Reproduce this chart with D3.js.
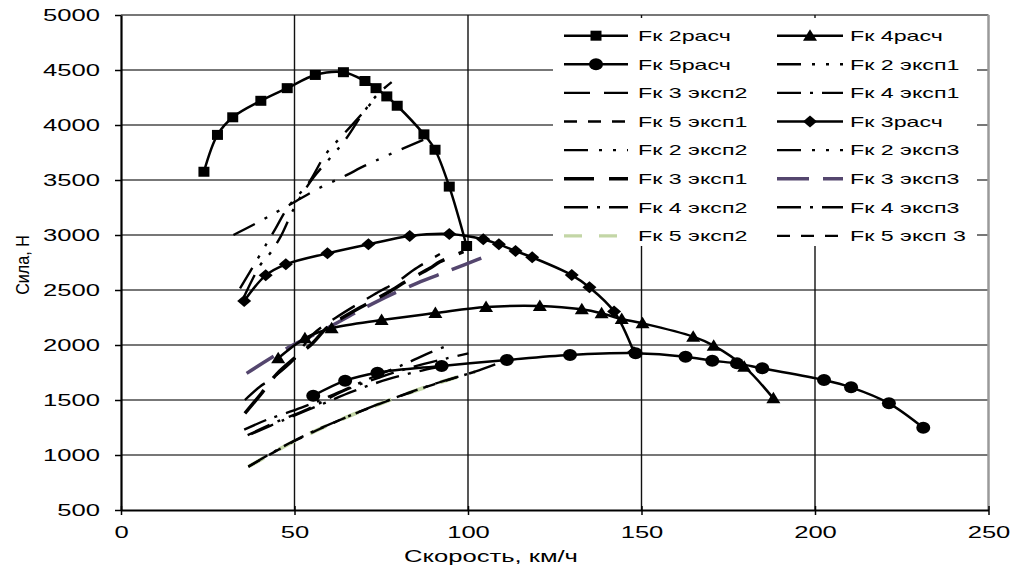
<!DOCTYPE html>
<html><head><meta charset="utf-8">
<script src="https://cdn.jsdelivr.net/npm/d3@7/dist/d3.min.js"></script>
<style>html,body{margin:0;padding:0;background:#fff;}svg{display:block;}</style>
</head><body><svg id="c" width="1011" height="573"></svg>
<script>
// ---- data: [speed km/h, force N] ----
const fk2calc = [[23.9,3575],[27.8,3910],[32.2,4070],[40.3,4220],[47.9,4335],[56,4455],[64.1,4480],[70.3,4400],[73.5,4335],[76.6,4260],[79.6,4175],[87.3,3915],[90.5,3775],[94.6,3440],[99.6,2900]];
const fk4calc = [[45.3,1879],[53,2061],[60.7,2152],[75.1,2227],[90.6,2290],[105.2,2345],[120.7,2355],[132.8,2324],[138.5,2288],[144.3,2236],[150.3,2197],[164.9,2076],[170.8,1994],[179.6,1803],[188,1515]];
const fk5calc = [[55.4,1539],[64.6,1676],[73.9,1748],[92.4,1810],[111.2,1864],[129.4,1909],[148.3,1926],[162.7,1894],[170.4,1857],[177.5,1833],[184.8,1788],[202.6,1682],[210.4,1615],[221.3,1470],[231.2,1248]];
const fk3calc = [[35.5,2400],[41.7,2633],[47.5,2733],[59.5,2833],[71.3,2915],[83.2,2991],[94.6,3010],[104.4,2961],[108.9,2915],[113.7,2855],[118.5,2797],[129.9,2636],[135,2524],[142.1,2304],[147.8,1935]];
const fk2exp1 = [[35.5,2440],[40,2720],[43.1,2839],[46,2985],[50.1,3257],[55.4,3520],[60.2,3697],[64.6,3864],[70,4120],[74,4280],[78,4390]];
const fk2exp2 = [[32.4,3000],[38.6,3100],[44.9,3210],[50,3300],[57.3,3430],[64.1,3530],[70.3,3630],[77,3727],[87.1,3864]];
const fk2exp3 = [[34.3,2515],[37.2,2667],[42,2924],[44.4,3051],[48.2,3257],[54,3470],[58.8,3727],[62.6,3864],[67,4015],[73.7,4257]];
const fk3exp1 = [[35.7,1379],[40.5,1561],[45,1740],[50,1880],[55,2010],[59.7,2167],[65,2270],[70.3,2364],[77,2480],[82.8,2591],[89,2697],[91.9,2757],[98.7,2848]];
const fk3exp2 = [[35.7,1500],[40,1621],[42.9,1682],[49.7,1864],[55,2090],[62,2250],[72.7,2455],[80.4,2591],[84.3,2682],[91.9,2827]];
const fk3exp3 = [[36.2,1742],[48.7,1985],[60.2,2166],[72.7,2379],[85.2,2561],[93.8,2666],[98.7,2727],[107.3,2833]];
const fk4exp1 = [[35.5,1230],[42,1320],[52,1430],[62,1560],[72,1700],[82,1830],[89,1930],[95.3,2009]];
const fk4exp2 = [[36.5,1180],[44,1290],[54,1420],[64,1580],[74,1700],[84,1800],[93.9,1879],[100.1,1924]];
const fk4exp3 = [[37.5,1190],[47,1320],[57,1450],[67,1580],[77,1690],[87,1770],[93,1810]];
const fk5exp1 = [[36.7,894],[50.6,1136],[63.1,1318],[77.5,1500],[90,1640],[102,1757]];
const fk5exp2 = [[36.7,894],[50.6,1136],[63.1,1318],[77.5,1500],[90,1640],[102,1757]];
const fk5exp3 = [[36.7,894],[50,1132],[63,1318],[77,1497],[90,1642],[102,1758],[111.2,1864]];

const xTicks = [0,50,100,150,200,250];
const yTicks = [500,1000,1500,2000,2500,3000,3500,4000,4500,5000];
const xTitle = "Скорость, км/ч";
const yTitle = "Сила, Н";

const legendNames = ["Fк 2расч","Fк 4расч","Fк 5расч","Fк 2 эксп1","Fк 3 эксп2","Fк 4 эксп1","Fк 5 эксп1","Fк 3расч","Fк 2 эксп2","Fк 2 эксп3","Fк 3 эксп1","Fк 3 эксп3","Fк 4 эксп2","Fк 4 эксп3","Fк 5 эксп2","Fк 5 эксп 3"];

// ---- styles ----
const DDOT = "24,11,3,11,3,11", DDASH = "24,9,3,9", LDASH = "26,14", SDASH = "13,11";
const series = {
  "Fк 2расч": {d: fk2calc, c:"#000", w:2.5, m:"square"},
  "Fк 4расч": {d: fk4calc, c:"#000", w:2.5, m:"tri"},
  "Fк 5расч": {d: fk5calc, c:"#000", w:2.5, m:"circle"},
  "Fк 3расч": {d: fk3calc, c:"#000", w:2.5, m:"diamond"},
  "Fк 2 эксп1": {d: fk2exp1, c:"#000", w:2.4, dash:DDOT},
  "Fк 2 эксп2": {d: fk2exp2, c:"#000", w:2.4, dash:DDOT},
  "Fк 2 эксп3": {d: fk2exp3, c:"#000", w:2.4, dash:DDOT},
  "Fк 3 эксп1": {d: fk3exp1, c:"#000", w:3.5, dash:"30,15"},
  "Fк 3 эксп2": {d: fk3exp2, c:"#000", w:2.4, dash:LDASH},
  "Fк 3 эксп3": {d: fk3exp3, c:"#54466e", w:3.5, dash:"32,14"},
  "Fк 4 эксп1": {d: fk4exp1, c:"#000", w:2.4, dash:DDASH},
  "Fк 4 эксп2": {d: fk4exp2, c:"#000", w:2.4, dash:DDASH},
  "Fк 4 эксп3": {d: fk4exp3, c:"#000", w:2.4, dash:DDASH},
  "Fк 5 эксп2": {d: fk5exp2, c:"#c3d6a6", w:3.8, dash:"18,17"},
  "Fк 5 эксп1": {d: fk5exp1, c:"#000", w:2.4, dash:SDASH},
  "Fк 5 эксп 3": {d: fk5exp3, c:"#000", w:2.4, dash:"22,8,3,8"},
};
const drawOrder = ["Fк 5 эксп2","Fк 5 эксп1","Fк 5 эксп 3","Fк 4 эксп1","Fк 4 эксп2","Fк 4 эксп3","Fк 3 эксп3","Fк 3 эксп1","Fк 3 эксп2","Fк 2 эксп1","Fк 2 эксп2","Fк 2 эксп3","Fк 2расч","Fк 3расч","Fк 4расч","Fк 5расч"];
const legendDash = {"Fк 5 эксп 3": SDASH};

const FONT = "Arial, 'Liberation Sans', sans-serif";
const SX = 1.6;

const svg = d3.select("#c");
const x = d3.scaleLinear().domain([0,250]).range([121,988.5]);
const y = d3.scaleLinear().domain([500,5000]).range([510,15]);

// grid
const grid = svg.append("g");
grid.selectAll("line.h").data(yTicks.filter(v=>v>500)).enter().append("line")
  .attr("x1",x(0)).attr("x2",x(250)).attr("y1",d=>y(d)).attr("y2",d=>y(d))
  .attr("stroke","#4a4a4a").attr("stroke-width",1.4);
grid.selectAll("line.v").data(xTicks.filter(v=>v>0 && v<250)).enter().append("line")
  .attr("x1",d=>x(d)).attr("x2",d=>x(d)).attr("y1",y(5000)).attr("y2",y(500))
  .attr("stroke","#111").attr("stroke-width",1.4);
grid.append("line").attr("x1",x(250)).attr("x2",x(250)).attr("y1",y(5000)).attr("y2",y(500))
  .attr("stroke","#9a9a9a").attr("stroke-width",2.5);

function markerPath(m){
  if(m==="square") return "M-5.5,-5H5.5V5H-5.5Z";
  if(m==="tri") return "M0,-6.5L7,5L-7,5Z";
  if(m==="diamond") return "M0,-6L7,0L0,6L-7,0Z";
  return null;
}
function drawMarker(g, m, cx, cy){
  if(m==="circle"){
    g.append("ellipse").attr("cx",cx).attr("cy",cy).attr("rx",7).attr("ry",6).attr("fill","#000");
  } else {
    g.append("path").attr("d",markerPath(m)).attr("transform",`translate(${cx},${cy})`).attr("fill","#000");
  }
}

const line = d3.line().x(d=>x(d[0])).y(d=>y(d[1])).curve(d3.curveCatmullRom.alpha(0.5));
const plot = svg.append("g");
drawOrder.forEach(name=>{
  const s = series[name];
  plot.append("path").attr("d",line(s.d)).attr("fill","none").attr("stroke",s.c)
    .attr("stroke-width",s.w).attr("stroke-dasharray",s.dash||null)
    .attr("stroke-linejoin","round");
  if(s.m){ s.d.forEach(p=>drawMarker(plot,s.m,x(p[0]),y(p[1]))); }
});

// legend
const lg = svg.append("g");
lg.append("rect").attr("x",553).attr("y",18).attr("width",424).attr("height",228).attr("fill","#fff");
legendNames.forEach((name,i)=>{
  const col = i%2, row = Math.floor(i/2);
  const cy = 35.7 + row*28.6;
  const lx1 = col? 777:564, lx2 = col? 843:628, tx = col? 850:638;
  const s = series[name];
  lg.append("line").attr("x1",lx1).attr("x2",lx2).attr("y1",cy).attr("y2",cy)
    .attr("stroke",s.c).attr("stroke-width",Math.min(s.w,3.4)).attr("stroke-dasharray",legendDash[name]||s.dash||null);
  if(s.m) drawMarker(lg,s.m,(lx1+lx2)/2,cy);
  lg.append("text").attr("transform",`translate(${tx},${cy}) scale(${SX},1)`)
    .attr("dy","0.36em").attr("font-family",FONT).attr("font-size",14.5).attr("fill","#000").text(name);
});

// axes
const ya = svg.append("g").attr("transform",`translate(${x(0)},0)`)
  .call(d3.axisLeft(y).tickValues(yTicks).tickFormat(d3.format("d")).tickSize(6).tickSizeOuter(0));
ya.select(".domain").attr("stroke","#000").attr("stroke-width",2.2);
ya.selectAll(".tick line").attr("stroke","#000").attr("stroke-width",1.5);
ya.selectAll(".tick text").attr("x",-21/SX).attr("transform",`scale(${SX},1)`)
  .attr("font-family",FONT).attr("font-size",16).attr("fill","#000");

const xa = svg.append("g").attr("transform",`translate(0,${y(500)})`)
  .call(d3.axisBottom(x).tickValues(xTicks).tickFormat(d3.format("d")).tickSize(5).tickSizeOuter(0));
xa.select(".domain").attr("stroke","#000").attr("stroke-width",2.2);
xa.selectAll(".tick line").attr("stroke","#000").attr("stroke-width",1.5).attr("y1",-4).attr("y2",5);
xa.selectAll(".tick text").attr("y",17).attr("transform",`scale(${SX},1)`)
  .attr("font-family",FONT).attr("font-size",16).attr("fill","#000");

svg.append("text").attr("transform",`translate(491,562) scale(${SX},1)`).attr("text-anchor","middle")
  .attr("font-family",FONT).attr("font-size",16).attr("fill","#000").text(xTitle);
svg.append("text").attr("transform",`translate(29,265) rotate(-90) scale(0.95,1.1)`).attr("text-anchor","middle")
  .attr("font-family",FONT).attr("font-size",17).attr("fill","#000").text(yTitle);
</script></body></html>
